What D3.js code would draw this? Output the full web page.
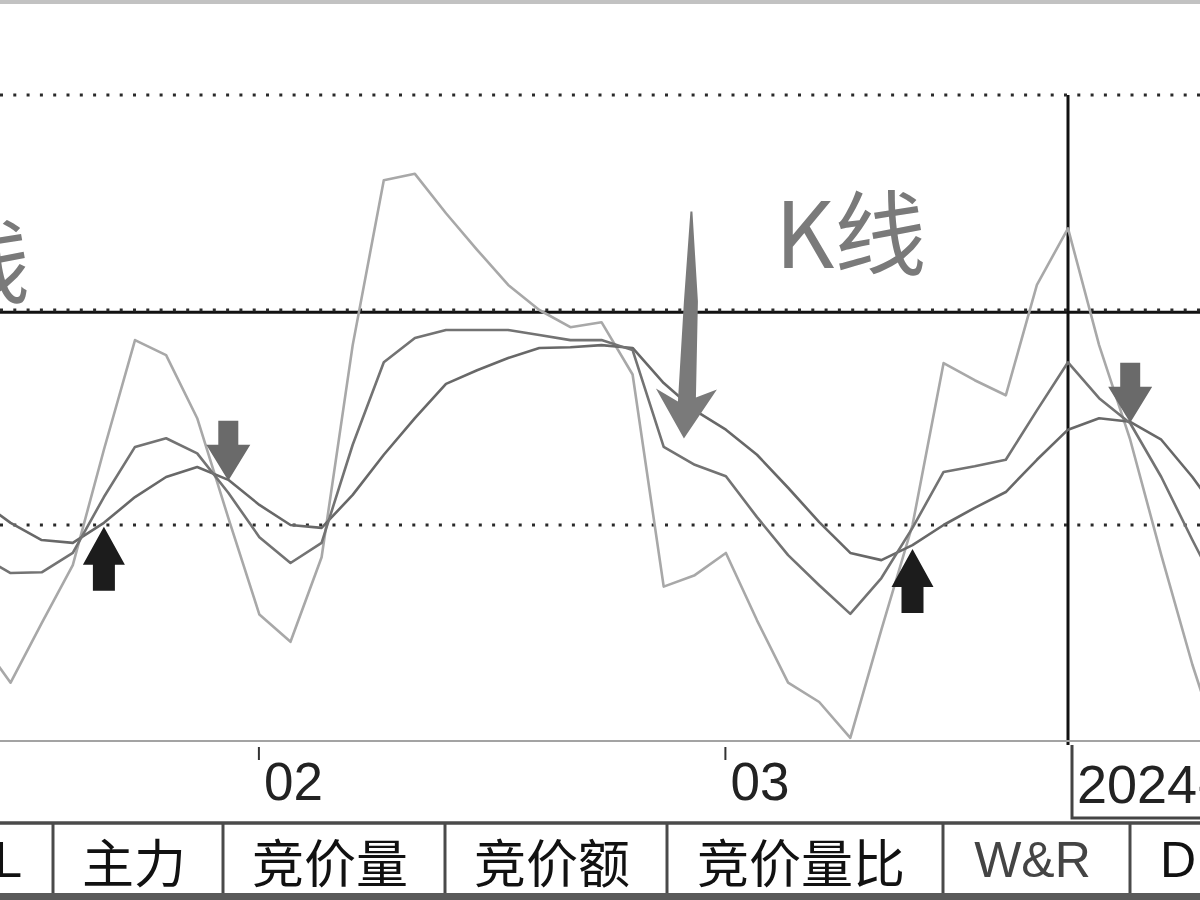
<!DOCTYPE html>
<html>
<head>
<meta charset="utf-8">
<script src="https://cdn.jsdelivr.net/npm/d3@7"></script>
<style>
  body { margin: 0; background: #fff; }
  svg { display: block; }
</style>
</head>
<body>
<div id="chart"></div>
<script>
// trading days shown in the window (Jan 19 .. Mar 25, 2024)
var dates = [
  '2024-01-19', '2024-01-22', '2024-01-23', '2024-01-24', '2024-01-25', '2024-01-26',
  '2024-01-29', '2024-01-30', '2024-01-31',
  '2024-02-01', '2024-02-02', '2024-02-05', '2024-02-06', '2024-02-07', '2024-02-08',
  '2024-02-19', '2024-02-20', '2024-02-21', '2024-02-22', '2024-02-23', '2024-02-26',
  '2024-02-27', '2024-02-28', '2024-02-29',
  '2024-03-01', '2024-03-04', '2024-03-05', '2024-03-06', '2024-03-07', '2024-03-08',
  '2024-03-11', '2024-03-12', '2024-03-13', '2024-03-14', '2024-03-15', '2024-03-18',
  '2024-03-19', '2024-03-20', '2024-03-21', '2024-03-22', '2024-03-25'
];
var weekdays = ['日', '一', '二', '三', '四', '五', '六'];

var kValues = [15.8, 13.3, 13.4, 16.1, 23.9, 30.9, 32.1, 30.0, 24.5, 18.3, 14.7, 17.5, 31.2, 42.7,
  46.1, 47.2, 47.2, 47.2, 46.5, 45.8, 45.8, 44.4, 30.9, 28.4, 26.8, 21.1, 15.8, 11.6, 7.6, 12.6,
  19.6, 27.4, 28.2, 29.1, 36.0, 42.7, 37.7, 34.2, 26.7, 17.9, 9.5];
var dValues = [23.5, 20.3, 17.9, 17.5, 20.3, 23.9, 26.7, 28.1, 26.3, 22.8, 20.0, 19.6, 24.2, 29.8,
  34.9, 39.7, 41.6, 43.3, 44.7, 44.8, 45.1, 44.7, 39.8, 36.0, 33.3, 29.8, 25.2, 20.4, 16.1, 15.1,
  17.2, 20.0, 22.4, 24.6, 29.1, 33.3, 34.9, 34.4, 31.9, 26.7, 20.7];
var jValues = [4.0, -2.0, 6.3, 14.4, 30.5, 45.8, 43.7, 34.9, 21.0, 7.5, 3.7, 15.5, 45.1, 68.1,
  69.0, 63.5, 58.4, 53.5, 50.0, 47.6, 48.3, 41.0, 11.4, 13.0, 16.1, 6.7, -2.0, -4.7, -9.7, 5.4,
  20.0, 42.6, 40.2, 38.1, 53.5, 61.4, 45.1, 31.9, 15.8, 0.5, -12.8];

var levels = [80, 50, 20];
var crossIndex = 35;
var crossValue = 49.7;
var goldenCross = [4, 30];
var deadCross = [8, 37];
var noteText = 'K线';
var noteIndex = 22.65;
var tabs = ['BOLL', '主力', '竞价量', '竞价额', '竞价量比', 'W&R', 'DMI'];

var width = 1200, height = 900;
var plotTop = 95, plotBottom = 741;

var svg = d3.select('#chart').append('svg')
  .attr('width', width)
  .attr('height', height)
  .style('font-family', '"Noto Sans CJK SC", "Noto Sans", sans-serif');

var x = d3.scaleLinear().domain([0, dates.length - 1]).range([-20.5, 1223.5]);
var y = d3.scaleLinear().domain([20, 80]).range([525, 95]);

// thin grey strip at the top of the panel
svg.append('rect').attr('x', 0).attr('y', 0).attr('width', width).attr('height', 4).attr('fill', '#c2c2c2');

svg.append('defs').append('clipPath').attr('id', 'plot')
  .append('rect').attr('x', 0).attr('y', plotTop - 5).attr('width', width).attr('height', plotBottom - plotTop + 4);

// crosshair
svg.append('line')
  .attr('x1', 0).attr('x2', width)
  .attr('y1', y(crossValue)).attr('y2', y(crossValue))
  .attr('stroke', '#111').attr('stroke-width', 3);
svg.append('line')
  .attr('x1', x(crossIndex)).attr('x2', x(crossIndex))
  .attr('y1', plotTop).attr('y2', plotBottom + 4)
  .attr('stroke', '#111').attr('stroke-width', 3);

// dotted level lines
svg.selectAll('.level')
  .data(levels)
  .enter()
  .append('line')
  .classed('level', true)
  .attr('x1', 0).attr('x2', width)
  .attr('y1', y).attr('y2', y)
  .attr('stroke', '#2a2a2a')
  .attr('stroke-width', 3)
  .attr('stroke-dasharray', '3 10.3');

// bottom axis line
svg.append('line')
  .attr('x1', 0).attr('x2', width)
  .attr('y1', plotBottom).attr('y2', plotBottom)
  .attr('stroke', '#a3a3a3').attr('stroke-width', 2);

// K, D, J
var line = d3.line()
  .x(function(d, i) { return x(i); })
  .y(function(d) { return y(d); });

var series = [
  { values: jValues, color: '#a8a8a8' },
  { values: dValues, color: '#686868' },
  { values: kValues, color: '#737373' }
];

svg.append('g').attr('clip-path', 'url(#plot)')
  .selectAll('path')
  .data(series)
  .enter()
  .append('path')
  .attr('d', function(d) { return line(d.values); })
  .attr('fill', 'none')
  .attr('stroke', function(d) { return d.color; })
  .attr('stroke-width', 2.6)
  .attr('stroke-linejoin', 'round');

// cross signals
var upArrow = 'M0,0 L21,38 L11,38 L11,64 L-11,64 L-11,38 L-21,38 Z';
var downArrow = 'M-10,-60 L10,-60 L10,-36 L22,-36 L0,0 L-22,-36 L-10,-36 Z';

svg.selectAll('.golden')
  .data(goldenCross)
  .enter()
  .append('path')
  .classed('golden', true)
  .attr('d', upArrow)
  .attr('fill', '#1c1c1c')
  .attr('transform', function(i) {
    return 'translate(' + x(i) + ',' + (y(Math.min(kValues[i], dValues[i])) + 4) + ')';
  });

svg.selectAll('.dead')
  .data(deadCross)
  .enter()
  .append('path')
  .classed('dead', true)
  .attr('d', downArrow)
  .attr('fill', '#6a6a6a')
  .attr('transform', function(i) {
    return 'translate(' + x(i) + ',' + (y(Math.max(kValues[i], dValues[i])) + 1) + ')';
  });

// annotation pointing at the K line
var lo = Math.floor(noteIndex);
var noteK = kValues[lo] + (kValues[lo + 1] - kValues[lo]) * (noteIndex - lo);
var tipX = x(noteIndex), tipY = y(noteK) - 20;
svg.append('path')
  .attr('d', 'M6.5,-227 L8.5,-227 L14,-137 L12,-41 L33,-49 L0,0 L-28,-50 L-6,-37 L0,-137 Z')
  .attr('fill', '#7a7a7a')
  .attr('transform', 'translate(' + tipX + ',' + tipY + ')');

svg.append('text')
  .attr('x', tipX + 91).attr('y', tipY - 171)
  .attr('font-size', 92)
  .attr('fill', '#7a7a7a')
  .text(noteText);
// the same label from the previous screen, mostly cut off
svg.append('text')
  .attr('x', 30).attr('y', tipY - 143)
  .attr('text-anchor', 'end')
  .attr('font-size', 92)
  .attr('fill', '#7a7a7a')
  .text(noteText);

// month ticks
var monthIdx = dates.map(function(d, i) { return i; }).filter(function(i) {
  return i > 0 && dates[i].slice(5, 7) !== dates[i - 1].slice(5, 7);
});

var axis = svg.append('g')
  .attr('transform', 'translate(0,' + (plotBottom + 6) + ')')
  .call(d3.axisBottom(x)
    .tickValues(monthIdx)
    .tickSize(13)
    .tickFormat(function(i) { return dates[i].slice(5, 7); }));
axis.select('.domain').remove();
axis.selectAll('.tick line').attr('stroke', '#333').attr('stroke-width', 2).attr('x1', -1).attr('x2', -1);
axis.selectAll('.tick text')
  .attr('fill', '#222')
  .attr('font-family', '"Liberation Sans", Arial, sans-serif')
  .attr('font-size', 53)
  .attr('text-anchor', 'start')
  .attr('x', 4)
  .attr('y', 53)
  .attr('dy', 0);

// date box at the crosshair (left and bottom edges show)
var boxX = x(crossIndex) + 4;
svg.append('path')
  .attr('d', 'M' + boxX + ',' + (plotBottom + 4) + ' V818 H' + width)
  .attr('fill', 'none')
  .attr('stroke', '#444').attr('stroke-width', 3);
var crossDate = dates[crossIndex];
svg.append('text')
  .attr('x', boxX + 5).attr('y', 803)
  .attr('font-family', '"Liberation Sans", Arial, sans-serif')
  .attr('font-size', 54)
  .attr('fill', '#222')
  .text(crossDate + '/' + weekdays[new Date(crossDate + 'T00:00:00').getDay()]);

// indicator tabs
var tabEdges = [-140, 53, 223, 445, 667, 943, 1130, 1360];
var tabTop = 823, tabBottom = 893;

svg.append('line')
  .attr('x1', 0).attr('x2', width).attr('y1', tabTop).attr('y2', tabTop)
  .attr('stroke', '#4a4a4a').attr('stroke-width', 3.5);
svg.append('rect').attr('x', 0).attr('y', tabBottom).attr('width', width).attr('height', height - tabBottom).attr('fill', '#5a5a5a');

svg.selectAll('.divider')
  .data(tabEdges.slice(1, -1))
  .enter()
  .append('line')
  .classed('divider', true)
  .attr('x1', function(d) { return d; }).attr('x2', function(d) { return d; })
  .attr('y1', tabTop).attr('y2', tabBottom)
  .attr('stroke', '#4a4a4a').attr('stroke-width', 3);

svg.selectAll('.tab')
  .data(tabs)
  .enter()
  .append('text')
  .classed('tab', true)
  .attr('x', function(d, i) {
    if (i === 0) return 22;
    if (i === tabs.length - 1) return tabEdges[i] + 30;
    return (tabEdges[i] + tabEdges[i + 1]) / 2 - 4;
  })
  .attr('y', 860)
  .attr('dominant-baseline', 'central')
  .attr('text-anchor', function(d, i) {
    if (i === 0) return 'end';
    if (i === tabs.length - 1) return 'start';
    return 'middle';
  })
  .attr('font-size', function(d) { return /[A-Z]/.test(d) ? 50 : 52; })
  .attr('font-family', function(d) {
    return /[A-Z]/.test(d) ? '"Liberation Sans", Arial, sans-serif' : '"Noto Sans CJK SC", sans-serif';
  })
  .attr('fill', function(d) { return d === 'W&R' ? '#444' : '#111'; })
  .text(function(d) { return d; });
</script>
</body>
</html>
